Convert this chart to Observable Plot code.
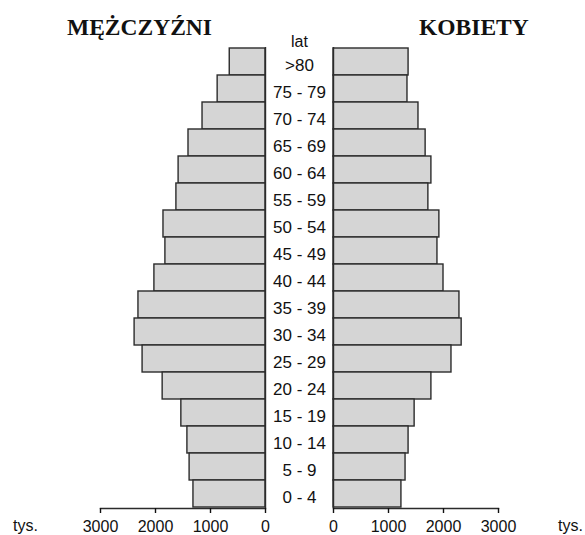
<!DOCTYPE html>
<html><head><meta charset="utf-8">
<script src="https://cdn.jsdelivr.net/npm/d3@7"></script>
<script src="https://cdn.jsdelivr.net/npm/@observablehq/plot@0.6"></script>
<style>
html,body{margin:0;padding:0;background:#fff;}
#wrap{position:relative;width:585px;height:535px;overflow:hidden;font-family:"Liberation Sans",Arial,sans-serif;color:#111;}
#wrap svg{position:absolute;left:0;top:0;}
.title{position:absolute;font-family:"Liberation Serif","Times New Roman",serif;font-weight:bold;font-size:23.5px;line-height:23px;color:#111;white-space:nowrap;}
.unit{position:absolute;font-size:16px;line-height:16px;color:#111;white-space:nowrap;}
</style></head><body><div id="wrap"></div>
<script>
const ages = [">80","75 - 79","70 - 74","65 - 69","60 - 64","55 - 59","50 - 54","45 - 49","40 - 44","35 - 39","30 - 34","25 - 29","20 - 24","15 - 19","10 - 14","5 - 9","0 - 4"];
const men = [650, 870, 1145, 1400, 1580, 1620, 1855, 1820, 2020, 2310, 2380, 2235, 1870, 1530, 1420, 1380, 1310];
const women = [1365, 1345, 1545, 1675, 1780, 1725, 1925, 1890, 2000, 2290, 2330, 2145, 1780, 1475, 1365, 1310, 1235];
const ticks = [0, 1000, 2000, 3000];
const titleMen = "MĘŻCZYŹNI";
const titleWomen = "KOBIETY";
const ageLabel = "lat";
const unit = "tys.";

const wrap = document.getElementById("wrap");
const common = {
  height: 535,
  marginTop: 47,
  marginBottom: 27,
  style: {background: "transparent", overflow: "visible", fontFamily: "'Liberation Sans', Arial, sans-serif", fontSize: "16px", color: "#111"},
  y: {domain: ages, padding: 0, axis: null}
};
const barStyle = {fill: "#d5d5d5", stroke: "#2b2b2b", strokeWidth: 1.4};

const menData = ages.map((a, i) => ({age: a, v: men[i]}));
const womenData = ages.map((a, i) => ({age: a, v: women[i]}));

const left = Plot.plot({
  ...common,
  width: 333,
  marginLeft: 100,
  marginRight: 68,
  x: {domain: [0, 3000], reverse: true, axis: null},
  marks: [
    Plot.barX(menData, {x: "v", y: "age", ...barStyle}),
    Plot.ruleX([0], {stroke: "#2b2b2b", strokeWidth: 1.4}),
    Plot.frame({anchor: "bottom", stroke: "#2b2b2b", strokeWidth: 1.4}),
    Plot.axisX({ticks, tickSize: 5, tickPadding: 7, tickFormat: d3.format("d"), fontSize: 16, label: null, strokeWidth: 1.4}),
    Plot.text(ages, {y: d => d, text: d => d, frameAnchor: "right", dx: 34, dy: 4, textAnchor: "middle", fontSize: 17, fill: "#111"}),
    Plot.text([ageLabel], {frameAnchor: "top-right", dx: 34, dy: -1, textAnchor: "middle", lineAnchor: "bottom", fontSize: 16, fill: "#111"})
  ]
});

const right = Plot.plot({
  ...common,
  width: 585,
  marginLeft: 333,
  marginRight: 87,
  x: {domain: [0, 3000], axis: null},
  marks: [
    Plot.barX(womenData, {x: "v", y: "age", ...barStyle}),
    Plot.ruleX([0], {stroke: "#2b2b2b", strokeWidth: 1.4}),
    Plot.frame({anchor: "bottom", stroke: "#2b2b2b", strokeWidth: 1.4}),
    Plot.axisX({ticks, tickSize: 5, tickPadding: 7, tickFormat: d3.format("d"), fontSize: 16, label: null, strokeWidth: 1.4})
  ]
});

wrap.appendChild(left);
wrap.appendChild(right);

function addDiv(cls, text, x, y) {
  const d = document.createElement("div");
  d.className = cls;
  d.textContent = text;
  d.style.left = x + "px";
  d.style.top = y + "px";
  wrap.appendChild(d);
}
addDiv("title", titleMen, 67, 15.5);
addDiv("title", titleWomen, 419, 15.5);
addDiv("unit", unit, 13, 517.5);
addDiv("unit", unit, 558, 517.5);
</script>
</body></html>
